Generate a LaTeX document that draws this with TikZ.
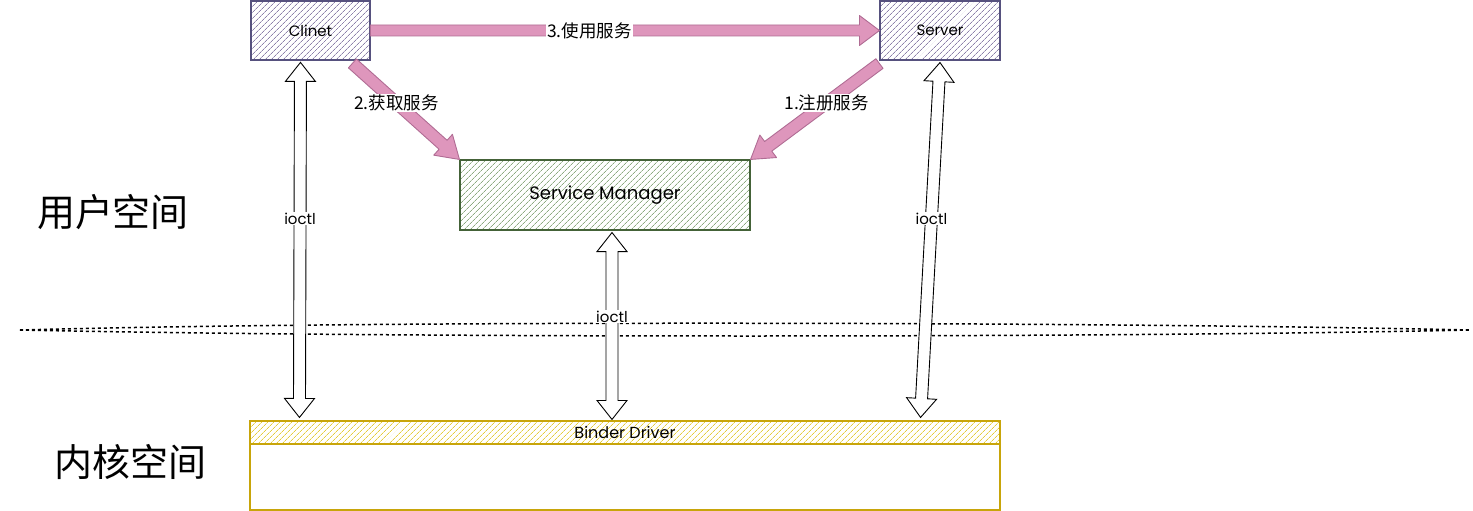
\documentclass[tikz,border=0pt]{standalone}
\usepackage{fontspec}
\setmainfont{Noto Sans CJK SC}
\newfontfamily\hand{Poppins}
\usetikzlibrary{calc,patterns.meta}
\definecolor{purpdraw}{RGB}{86,81,126}
\definecolor{purphatch}{RGB}{140,128,170}
\definecolor{greendraw}{RGB}{68,98,56}
\definecolor{greenhatch}{RGB}{140,170,128}
\definecolor{yeldraw}{RGB}{200,165,10}
\definecolor{yelhatch}{RGB}{228,204,60}
\definecolor{pinkfill}{RGB}{222,150,188}
\definecolor{pinkdraw}{RGB}{176,108,148}
\newcommand{\oneArrow}[6]{%
  \coordinate (wC) at ($(#3)!#6!(#2)$);
  \draw[#1] ($(#2)!#4!90:(#3)$) -- ($(wC)!#4!90:(#3)$) -- ($(wC)!#5!90:(#3)$) -- (#3)
    -- ($(wC)!#5!-90:(#3)$) -- ($(wC)!#4!-90:(#3)$) -- ($(#2)!#4!-90:(#3)$) -- cycle;}
\newcommand{\twoArrow}[6]{%
  \coordinate (wA) at ($(#2)!#6!(#3)$);
  \coordinate (wB) at ($(#3)!#6!(#2)$);
  \draw[#1] (#2) -- ($(wA)!#5!90:(#3)$) -- ($(wA)!#4!90:(#3)$) -- ($(wB)!#4!90:(#3)$)
    -- ($(wB)!#5!90:(#3)$) -- (#3) -- ($(wB)!#5!-90:(#3)$) -- ($(wB)!#4!-90:(#3)$)
    -- ($(wA)!#4!-90:(#3)$) -- ($(wA)!#5!-90:(#3)$) -- cycle;}
\tikzset{
  hbox/.style={draw=#1draw, line width=1.1pt, pattern={Lines[angle=45,distance=4pt,line width=0.8pt]},
    pattern color=#1hatch, inner sep=0pt, font=\hand\fontsize{15}{17}\selectfont},
  pinkarrow/.style={fill=pinkfill, draw=pinkdraw, line width=0.9pt, line join=round},
  hollow/.style={fill=white, draw=black, line width=0.9pt, line join=miter},
  lbl/.style={fill=white, inner sep=1pt, font=\fontsize{17.5}{19}\selectfont},
  ilbl/.style={fill=white, inner sep=1pt, font=\hand\fontsize{15}{17}\selectfont},
  big/.style={font=\fontsize{38}{42}\selectfont}
}
\begin{document}
\begin{tikzpicture}[x=1pt,y=-1pt]
\useasboundingbox (0,0) rectangle (1473,511);
% boxes
\node[hbox=purp, minimum width=119pt, minimum height=59pt] (cl) at (310.5,30.5) {Clinet};
\node[hbox=purp, minimum width=120pt, minimum height=59pt] (sv) at (940,30.5) {Server};
\node[hbox=green, minimum width=290pt, minimum height=70pt, font=\hand\fontsize{18}{20}\selectfont] (sm) at (605,195) {Service Manager};
\node[draw=yeldraw, line width=1.1pt, fill=white, minimum width=750pt, minimum height=66pt, inner sep=0pt] (bdb) at (625,477) {};
\node[hbox=yel, minimum width=750pt, minimum height=23pt, font=\hand\fontsize{16}{18}\selectfont] (bd) at (625,432.5) {Binder Driver};
% side labels
\node[big] (us) at (113,212) {用户空间};
\node[big] (ks) at (130,462) {内核空间};
% dotted separator
\coordinate (dl) at (20,330);
\coordinate (dr) at (1470,330);
\draw[line width=1.5pt, dash pattern=on 3pt off 3pt] (dl) .. controls (400,320) and (1100,322) .. (dr);
\draw[line width=1.5pt, dash pattern=on 3pt off 3pt] (dl) .. controls (400,338) and (1100,338) .. (dr);
% pink arrows
\coordinate (p3s) at (cl.east);
\coordinate (p3e) at (sv.west);
\oneArrow{pinkarrow}{p3s}{p3e}{5.5pt}{15pt}{20pt}
\coordinate (p2s) at ($(cl.south east)+(-18,3)$);
\coordinate (p2e) at (sm.north west);
\oneArrow{pinkarrow}{p2s}{p2e}{6pt}{14pt}{22pt}
\coordinate (p1s) at ($(sv.south west)+(0,3)$);
\coordinate (p1e) at (sm.north east);
\oneArrow{pinkarrow}{p1s}{p1e}{6pt}{14pt}{22pt}
\node[lbl] (l3) at ($(p3s)!0.43!(p3e)$) {3.使用服务};
\node[lbl] (l2) at ($(p2s)!0.41!(p2e)$) {2.获取服务};
\node[lbl] (l1) at ($(p1s)!0.41!(p1e)$) {1.注册服务};
% hollow ioctl arrows
\coordinate (c1s) at ($(cl.south)+(-10,2)$);
\coordinate (c1e) at ($(bd.north west)+(50,-3)$);
\twoArrow{hollow}{c1s}{c1e}{6pt}{15pt}{19pt}
\coordinate (c2s) at ($(sm.south)+(7,2)$);
\coordinate (c2e) at ($(bd.north)+(-13,-1)$);
\twoArrow{hollow}{c2s}{c2e}{6pt}{15pt}{19pt}
\coordinate (c3s) at ($(sv.south)+(0,2)$);
\coordinate (c3e) at ($(bd.north east)+(-80,-3)$);
\twoArrow{hollow}{c3s}{c3e}{6pt}{15pt}{19pt}
\node[ilbl] (i1) at ($(c1s)!0.44!(c1e)$) {ioctl};
\node[ilbl] (i2) at ($(c2s)!0.45!(c2e)$) {ioctl};
\node[ilbl] (i3) at ($(c3s)!0.44!(c3e)$) {ioctl};
\end{tikzpicture}
\end{document}
